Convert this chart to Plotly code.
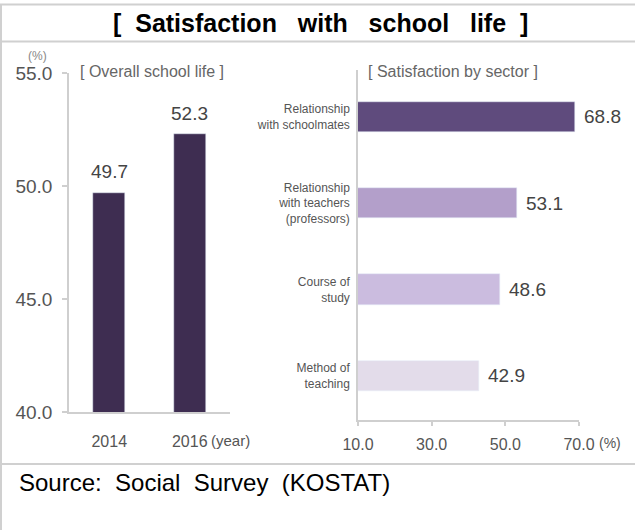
import plotly.graph_objects as go

W, H = 635, 530

# ---- data ----
years = ["2014", "2016"]
overall = [49.7, 52.3]
sectors = ["Relationship<br>with schoolmates",
           "Relationship<br>with teachers<br>(professors)",
           "Course of<br>study",
           "Method of<br>teaching"]
sector_vals = [68.8, 53.1, 48.6, 42.9]
y_ticks = [40, 45, 50, 55]
y_tick_text = ["40.0", "45.0", "50.0", "55.0"]
x_ticks = [10, 30, 50, 70]
x_tick_text = ["10.0", "30.0", "50.0", "70.0"]

left_color = "#3e2d51"
sector_colors = ["#5f4b7d", "#b39fca", "#cbbcdf", "#e3dcea"]

NARROW = "Liberation Sans Narrow, Arial Narrow, Liberation Sans, Arial, sans-serif"
SANS = "Liberation Sans, Arial, sans-serif"
AXC = "#cfcfcf"


def px(x):
    return x / W


def py(y):
    return 1 - y / H


fig = go.Figure()

fig.add_trace(go.Bar(x=years, y=overall, marker_color=left_color, width=0.4,
                     xaxis="x", yaxis="y", showlegend=False, hoverinfo="skip"))
fig.add_trace(go.Bar(x=sector_vals, y=sectors, orientation="h",
                     marker=dict(color=sector_colors), width=0.35,
                     xaxis="x2", yaxis="y2", showlegend=False, hoverinfo="skip"))

annotations = []
for i, v in enumerate(overall):
    annotations.append(dict(x=i, y=v, xref="x", yref="y", text=f"{v:.1f}",
                            showarrow=False, yanchor="middle", yshift=21,
                            font=dict(family=NARROW, size=19, color="#444")))
for s, v in zip(sectors, sector_vals):
    annotations.append(dict(x=v, y=s, xref="x2", yref="y2", text=f"{v:.1f}",
                            showarrow=False, xanchor="left", xshift=7,
                            font=dict(family=NARROW, size=19, color="#444")))

annotations += [
    dict(x=px(320), y=py(23), xref="paper", yref="paper",
         text="[  Satisfaction   with   school   life  ]", showarrow=False,
         xanchor="center", yanchor="middle",
         font=dict(family=SANS, size=25, color="#000", weight="bold")),
    dict(x=px(17), y=py(482), xref="paper", yref="paper",
         text="Source:  Social  Survey  (KOSTAT)", showarrow=False,
         xanchor="left", yanchor="middle",
         font=dict(family=SANS, size=24, color="#000")),
    dict(x=px(78), y=py(72), xref="paper", yref="paper",
         text="[ Overall school life ]", showarrow=False,
         xanchor="left", yanchor="middle",
         font=dict(family=SANS, size=16, color="#666")),
    dict(x=px(366), y=py(72), xref="paper", yref="paper",
         text="[ Satisfaction by sector ]", showarrow=False,
         xanchor="left", yanchor="middle",
         font=dict(family=SANS, size=16, color="#666")),
    dict(x=px(37), y=py(56), xref="paper", yref="paper",
         text="(%)", showarrow=False, xanchor="center", yanchor="middle",
         font=dict(family=NARROW, size=12, color="#888")),
    dict(x=px(209), y=py(440), xref="paper", yref="paper",
         text="(year)", showarrow=False, xanchor="left", yanchor="middle",
         font=dict(family=NARROW, size=15, color="#555")),
    dict(x=px(597), y=py(443), xref="paper", yref="paper",
         text="(%)", showarrow=False, xanchor="left", yanchor="middle",
         font=dict(family=NARROW, size=14, color="#555")),
]

shapes = [
    dict(type="line", xref="paper", yref="paper", x0=0, x1=1, y0=py(4.5), y1=py(4.5),
         line=dict(color="#d0d0d0", width=2)),
    dict(type="line", xref="paper", yref="paper", x0=0, x1=1, y0=py(41.5), y1=py(41.5),
         line=dict(color="#d0d0d0", width=2)),
    dict(type="line", xref="paper", yref="paper", x0=0, x1=1, y0=py(464), y1=py(464),
         line=dict(color="#d0d0d0", width=2)),
    dict(type="line", xref="paper", yref="paper", x0=px(1), x1=px(1), y0=0, y1=py(4.5),
         line=dict(color="#d0d0d0", width=2)),
]

fig.update_layout(
    width=W, height=H, margin=dict(l=0, r=0, t=0, b=0, pad=0, autoexpand=False),
    paper_bgcolor="white", plot_bgcolor="white",
    annotations=annotations, shapes=shapes, bargap=0,
    xaxis=dict(domain=[px(69), px(230)], type="category", range=[-0.5, 1.5],
               showgrid=False, showline=True, linecolor=AXC, linewidth=1.5,
               ticks="", tickfont=dict(family=NARROW, size=16, color="#555"),
               ticklabelstandoff=14, automargin=False, fixedrange=True),
    yaxis=dict(domain=[py(412), py(73)], range=[40, 55], tickvals=y_ticks,
               ticktext=y_tick_text, showgrid=False, zeroline=False,
               showline=True, linecolor=AXC, linewidth=1.5, ticks="outside",
               ticklen=5, tickcolor=AXC, tickwidth=1.5,
               tickfont=dict(family=NARROW, size=19, color="#555"),
               ticklabelstandoff=6, automargin=False, fixedrange=True),
    xaxis2=dict(domain=[px(358), px(579)], range=[10, 70], tickvals=x_ticks,
                ticktext=x_tick_text, showgrid=False, zeroline=False,
                showline=True, linecolor=AXC, linewidth=1.5, ticks="outside",
                ticklen=4, tickcolor=AXC, tickwidth=1.5, anchor="y2",
                tickfont=dict(family=NARROW, size=16, color="#555"),
                ticklabelstandoff=5, automargin=False, fixedrange=True),
    yaxis2=dict(domain=[py(420), py(70)], type="category", range=[3.51, -0.54],
                showgrid=False, showline=True, linecolor=AXC, linewidth=1.5,
                ticks="", anchor="x2",
                tickfont=dict(family=NARROW, size=12, color="#555"),
                ticklabelstandoff=4, automargin=False, fixedrange=True),
)

fig.write_html("out.html", config={"displayModeBar": False},
               post_script="document.body.style.margin='0px';"
                           "document.body.style.overflow='hidden';")
